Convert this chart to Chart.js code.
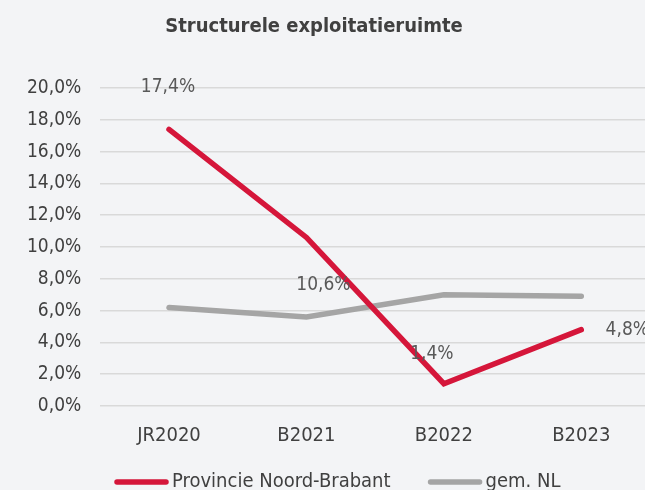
<html>
<head>
  <title>Structurele exploitatieruimte</title>
  <script src="https://cdn.jsdelivr.net/npm/chart.js"></script>
  <style>
    body { margin: 0; background: #f3f4f6; }
    #wrap { width: 645px; height: 490px; overflow: hidden; position: relative; }
  </style>
</head>
<body>
  <div id="wrap">
    <canvas id="chart" width="660" height="490"></canvas>
  </div>
  <script>
    // data
    const categories = ['JR2020', 'B2021', 'B2022', 'B2023'];
    const brabant = [17.4, 10.6, 1.4, 4.8];
    const gemNL = [6.2, 5.6, 7.0, 6.9];
    const yTicks = [0, 2, 4, 6, 8, 10, 12, 14, 16, 18, 20];

    const fontFam = '"DejaVu Sans Condensed", "DejaVu Sans", sans-serif';
    const fmt = v => v.toFixed(1).replace('.', ',') + '%';

    // label offsets (px) relative to each point, like Excel placed them
    const labelShift = [[-1, -42], [17, 48], [-12, -30], [46, 0]];

    // title, point labels and legend drawn by hand so they sit where Excel put them
    const extras = {
      id: 'extras',
      afterDatasetsDraw(chart) {
        const ctx = chart.ctx;
        const meta = chart.getDatasetMeta(0);
        ctx.save();
        ctx.font = '19px ' + fontFam;
        ctx.fillStyle = '#595959';
        ctx.textAlign = 'center';
        ctx.textBaseline = 'middle';
        meta.data.forEach((pt, i) => {
          ctx.fillText(fmt(brabant[i]), pt.x + labelShift[i][0], pt.y + labelShift[i][1]);
        });
        ctx.restore();
      },
      afterDraw(chart) {
        const ctx = chart.ctx;
        ctx.save();
        // title
        ctx.font = 'bold 20px ' + fontFam;
        ctx.fillStyle = '#404040';
        ctx.textAlign = 'center';
        ctx.textBaseline = 'middle';
        ctx.fillText('Structurele exploitatieruimte', 314, 27);
        // legend
        ctx.font = '20px ' + fontFam;
        ctx.textAlign = 'left';
        const y = 482;
        let x = 115;
        chart.data.datasets.forEach(ds => {
          ctx.strokeStyle = ds.borderColor;
          ctx.lineWidth = 5.5;
          ctx.lineCap = 'round';
          ctx.beginPath();
          ctx.moveTo(x + 2, y);
          ctx.lineTo(x + 51, y);
          ctx.stroke();
          ctx.fillStyle = '#404040';
          ctx.fillText(ds.label, x + 57, y);
          x += 57 + ctx.measureText(ds.label).width + 38;
        });
        ctx.restore();
      }
    };

    new Chart(document.getElementById('chart'), {
      type: 'line',
      data: {
        labels: categories,
        datasets: [{
          label: 'Provincie Noord-Brabant',
          data: brabant,
          borderColor: '#d5163a',
          backgroundColor: '#d5163a',
          borderWidth: 5.5,
          pointRadius: 0,
          borderCapStyle: 'round',
          tension: 0
        }, {
          label: 'gem. NL',
          data: gemNL,
          borderColor: '#a5a5a5',
          backgroundColor: '#a5a5a5',
          borderWidth: 5.5,
          pointRadius: 0,
          borderCapStyle: 'round',
          tension: 0
        }]
      },
      options: {
        responsive: false,
        animation: false,
        layout: { padding: { left: 8, right: 10, top: 88, bottom: 32 } },
        scales: {
          x: {
            offset: true,
            grid: { display: false },
            border: { display: false },
            ticks: { color: '#404040', font: { family: fontFam, size: 20 }, padding: 10 }
          },
          y: {
            min: 0,
            max: 20,
            afterBuildTicks: axis => { axis.ticks = yTicks.map(v => ({ value: v })); },
            grid: { color: '#d9d9d9', lineWidth: 1.5, drawTicks: false },
            border: { display: false },
            ticks: {
              color: '#404040',
              font: { family: fontFam, size: 19 },
              padding: 19,
              callback: v => fmt(v)
            }
          }
        },
        plugins: {
          title: { display: false },
          legend: { display: false },
          tooltip: { enabled: false }
        }
      },
      plugins: [extras]
    });
  </script>
</body>
</html>
